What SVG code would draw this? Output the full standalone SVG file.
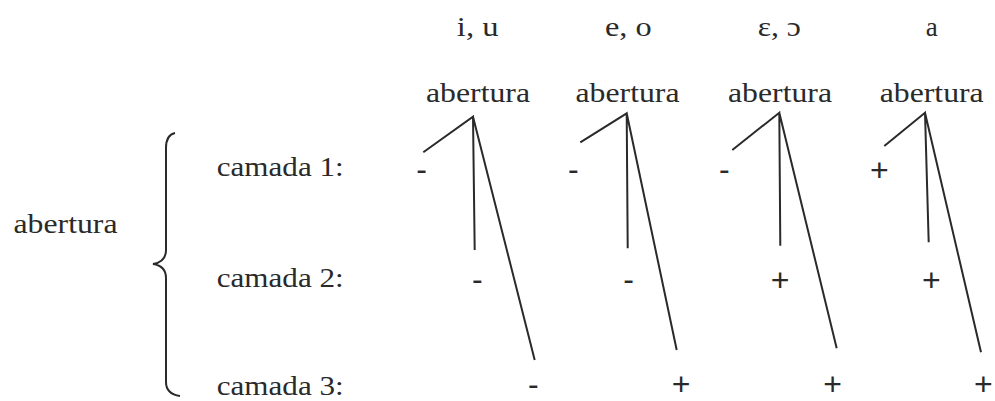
<svg xmlns="http://www.w3.org/2000/svg" width="995" height="401" viewBox="0 0 995 401">
<style>
.t{font-family:"Liberation Serif","Times New Roman",serif;font-size:27px;fill:#2a2a2a}
.s{font-family:"Liberation Sans",Arial,sans-serif;font-size:32px;fill:#2a2a2a;text-anchor:middle}
.m{text-anchor:middle}
.ln{stroke:#2a2a2a;stroke-width:2;fill:none;stroke-linecap:butt}
</style>
<rect width="995" height="401" fill="#fff"/>
<g id="labels-left">
<text class="t" x="13.5" y="233" textLength="104" lengthAdjust="spacingAndGlyphs">abertura</text>
<path class="ln" d="M175,133 Q166,135 166,148 L166,250 Q166,262 153,264 Q166,266 166,278 L166,382 Q166,394 180,396" stroke-width="1.8"/>
<text class="t" x="216.7" y="176" textLength="127" lengthAdjust="spacingAndGlyphs">camada 1:</text>
<text class="t" x="216.7" y="286.5" textLength="127" lengthAdjust="spacingAndGlyphs">camada 2:</text>
<text class="t" x="216.7" y="395" textLength="127" lengthAdjust="spacingAndGlyphs">camada 3:</text>
</g>
<g id="node-iu">
<text class="t m" x="477.7" y="36" textLength="41.7" lengthAdjust="spacingAndGlyphs">i, u</text>
<text class="t m" x="478" y="102" textLength="104" lengthAdjust="spacingAndGlyphs">abertura</text>
<text class="s" x="421.7" y="180">-</text>
<text class="s" x="477.3" y="290">-</text>
<text class="s" x="533.3" y="395">-</text>
</g>
<g id="node-eo">
<text class="t m" x="628.3" y="36" textLength="46.7" lengthAdjust="spacingAndGlyphs">e, o</text>
<text class="t m" x="627.5" y="102" textLength="104" lengthAdjust="spacingAndGlyphs">abertura</text>
<text class="s" x="573.3" y="180">-</text>
<text class="s" x="628.7" y="290">-</text>
<text class="s" x="681" y="395">+</text>
</g>
<g id="node-eps">
<text class="t m" x="779.3" y="36" textLength="43.3" lengthAdjust="spacingAndGlyphs">ε, ɔ</text>
<text class="t m" x="780" y="102" textLength="104" lengthAdjust="spacingAndGlyphs">abertura</text>
<text class="s" x="724.3" y="180">-</text>
<text class="s" x="780" y="291">+</text>
<text class="s" x="832.7" y="395">+</text>
</g>
<g id="node-a">
<text class="t m" x="931.7" y="36">a</text>
<text class="t m" x="931.7" y="102" textLength="104" lengthAdjust="spacingAndGlyphs">abertura</text>
<text class="s" x="879.3" y="181">+</text>
<text class="s" x="931.3" y="291">+</text>
<text class="s" x="983.3" y="395">+</text>
</g>
<g id="connectors">
<path class="ln" d="M423.3,152.3 L473,116.7 L474.7,250 M473,116.7 L534.7,360"/>
<path class="ln" d="M580.3,142.3 L626.7,113.3 L627.7,248.3 M626.7,113.3 L676.7,350"/>
<path class="ln" d="M732.3,150 L779.3,112.7 L780.3,245.7 M779.3,112.7 L836.7,348.3"/>
<path class="ln" d="M884.3,146 L925,112.7 L928.7,242.3 M925,112.7 L981,352.3"/>
</g>
</svg>
